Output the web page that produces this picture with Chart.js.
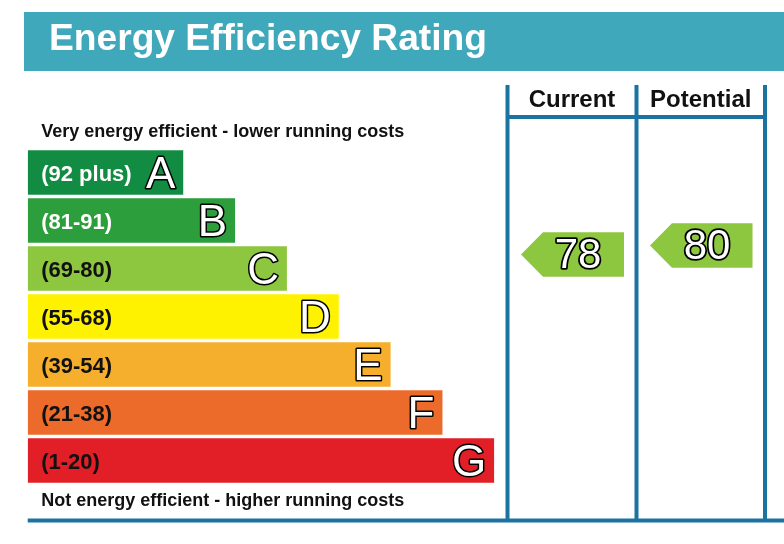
<!DOCTYPE html>
<html>
<head>
<meta charset="utf-8">
<script src="https://cdn.jsdelivr.net/npm/chart.js@4.4.1/dist/chart.umd.min.js"></script>
<style>
  html, body { margin: 0; padding: 0; background: #ffffff; }
  #wrap { width: 784px; height: 544px; position: relative; }
</style>
</head>
<body>
<div id="wrap"><canvas id="c" width="784" height="544"></canvas></div>
<script>
// ---- data ----
const titleText = 'Energy Efficiency Rating';
const categories = ['A', 'B', 'C', 'D', 'E', 'F', 'G'];
const rangeLabels = ['(92 plus)', '(81-91)', '(69-80)', '(55-68)', '(39-54)', '(21-38)', '(1-20)'];
const barLengths = [3, 4, 5, 6, 7, 8, 9];
const barColors = ['#138c43', '#2d9e3c', '#8dc63f', '#fff200', '#f6ae2d', '#ec6a2a', '#e21f26'];
const rangeTextColors = ['#ffffff', '#ffffff', '#111111', '#111111', '#111111', '#111111', '#111111'];
const topNote = 'Very energy efficient - lower running costs';
const bottomNote = 'Not energy efficient - higher running costs';
const columnHeaders = ['Current', 'Potential'];
const ratings = [78, 80];
const ratingColors = ['#8dc63f', '#8dc63f'];

const FONT = "'Liberation Sans', Arial, Helvetica, sans-serif";
const TEAL = '#3fa8bb';
const LINE = '#1b74a0';

function outlinedText(ctx, txt, x, y, size, align, lw) {
  ctx.save();
  ctx.font = 'normal ' + size + 'px ' + FONT;
  ctx.textAlign = align;
  ctx.textBaseline = 'alphabetic';
  ctx.lineJoin = 'round';
  ctx.lineWidth = lw;
  ctx.strokeStyle = '#000000';
  ctx.strokeText(txt, x, y);
  ctx.fillStyle = '#ffffff';
  ctx.fillText(txt, x, y);
  ctx.restore();
}

const epcPlugin = {
  id: 'epc',
  beforeDraw(chart) {
    const ctx = chart.ctx;
    ctx.save();
    ctx.fillStyle = '#ffffff';
    ctx.fillRect(0, 0, chart.width, chart.height);
    // title banner
    ctx.fillStyle = TEAL;
    ctx.fillRect(24, 12, chart.width - 24, 59);
    ctx.fillStyle = '#ffffff';
    ctx.font = 'bold 36px ' + FONT;
    ctx.textBaseline = 'alphabetic';
    const w = ctx.measureText(titleText).width;
    ctx.translate(49, 50);
    ctx.scale(438 / w, 1);
    ctx.fillText(titleText, 0, 0);
    ctx.restore();
  },
  afterDatasetsDraw(chart) {
    const ctx = chart.ctx;
    const area = chart.chartArea;
    const meta = chart.getDatasetMeta(0);
    ctx.save();
    // labels inside bars
    meta.data.forEach((bar, i) => {
      const p = bar.getProps(['x', 'y', 'base', 'height'], true);
      ctx.font = 'bold 22px ' + FONT;
      ctx.fillStyle = rangeTextColors[i];
      ctx.textAlign = 'left';
      ctx.textBaseline = 'alphabetic';
      ctx.fillText(rangeLabels[i], p.base + 13.5, p.y + 8);
      outlinedText(ctx, categories[i], p.x - 8, p.y + 15.5, 44, 'right', 3);
    });
    // notes
    ctx.font = 'bold 18px ' + FONT;
    ctx.fillStyle = '#111111';
    ctx.textAlign = 'left';
    ctx.fillText(topNote, area.left + 13.5, 137);
    ctx.fillText(bottomNote, area.left + 13.5, 505.5);

    // table
    const colX = [507.5, 636.5, 765];
    const topY = 85, headY = 117, botY = 520.5;
    ctx.strokeStyle = LINE;
    ctx.lineWidth = 4;
    ctx.lineCap = 'butt';
    ctx.beginPath();
    colX.forEach(x => { ctx.moveTo(x, topY); ctx.lineTo(x, botY); });
    ctx.moveTo(colX[0], headY); ctx.lineTo(colX[2], headY);
    ctx.moveTo(area.left, botY); ctx.lineTo(chart.width, botY);
    ctx.stroke();

    ctx.font = 'bold 24px ' + FONT;
    ctx.fillStyle = '#111111';
    ctx.textAlign = 'center';
    columnHeaders.forEach((h, i) => {
      const cx = (colX[i] + colX[i + 1]) / 2;
      const tw = ctx.measureText(h).width;
      ctx.save();
      ctx.translate(cx, 107);
      const target = i === 0 ? 92 : 106;
      ctx.scale(Math.min(1, target / tw), 1);
      ctx.fillText(h, 0, 0);
      ctx.restore();
    });

    // rating arrows, positioned on the score scale
    const score = chart.scales.score;
    const bh = meta.data[0].height;
    ratings.forEach((v, i) => {
      const cy = score.getPixelForValue(v);
      const left = colX[i] + 13.5;
      const right = colX[i + 1] - 12.5;
      const tip = 22;
      ctx.fillStyle = ratingColors[i];
      ctx.beginPath();
      ctx.moveTo(left, cy);
      ctx.lineTo(left + tip, cy - bh / 2);
      ctx.lineTo(right, cy - bh / 2);
      ctx.lineTo(right, cy + bh / 2);
      ctx.lineTo(left + tip, cy + bh / 2);
      ctx.closePath();
      ctx.fill();
      outlinedText(ctx, String(v), left + 57, cy + 14, 42, 'center', 3.5);
    });
    ctx.restore();
  }
};

new Chart(document.getElementById('c'), {
  type: 'bar',
  data: {
    labels: categories,
    datasets: [{
      data: barLengths,
      backgroundColor: barColors,
      borderWidth: 0,
      barPercentage: 0.93,
      categoryPercentage: 1.0
    }]
  },
  options: {
    indexAxis: 'y',
    responsive: false,
    animation: false,
    devicePixelRatio: 1,
    layout: { padding: { left: 27.7, right: 289.7, top: 148.5, bottom: 59.5 } },
    scales: {
      x: { type: 'linear', min: 0, max: 9, display: false },
      y: { type: 'category', display: false },
      score: { type: 'linear', axis: 'y', position: 'right', offset: false, bounds: 'data',
               min: 27, max: 101.5, display: false }
    },
    plugins: {
      legend: { display: false },
      tooltip: { enabled: false },
      title: { display: false }
    }
  },
  plugins: [epcPlugin]
});
</script>
</body>
</html>
